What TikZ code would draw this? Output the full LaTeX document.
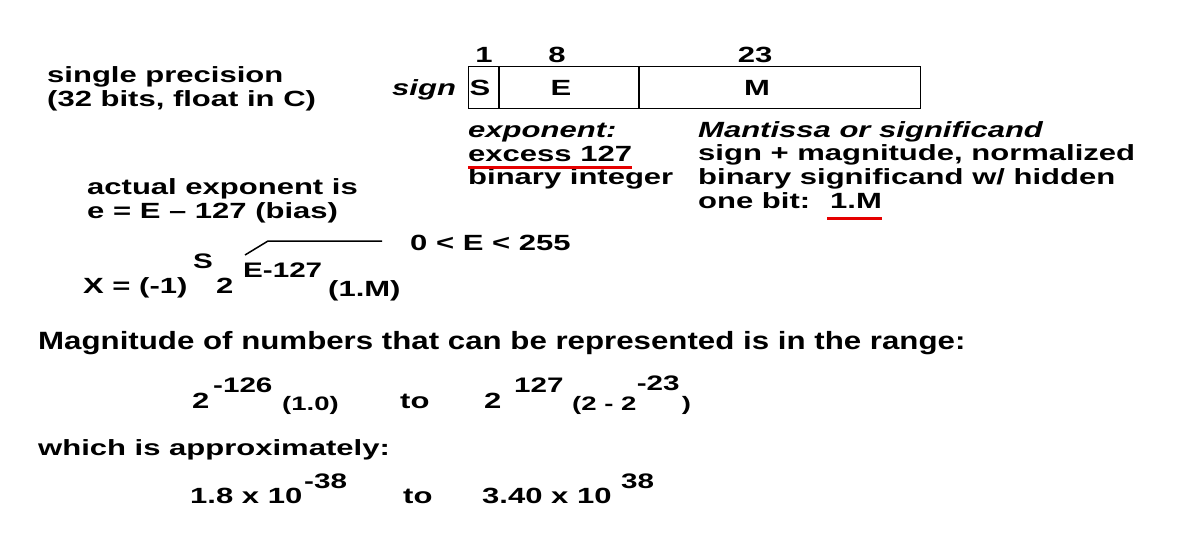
\documentclass[tikz,border=0pt]{standalone}
\usepackage{fontspec}
\setmainfont{Liberation Sans}[FakeStretch=1.41]
\newfontfamily\magfont{Liberation Sans}[FakeStretch=1.25]
\usetikzlibrary{positioning}
\tikzset{
  txt/.style={anchor=base west, inner sep=0pt, font=\bfseries\fontsize{22}{24}\selectfont},
  itxt/.style={txt, font=\bfseries\itshape\fontsize{22}{24}\selectfont},
  suptxt/.style={txt, font=\bfseries\fontsize{21}{24}\selectfont},
  smalltxt/.style={txt, font=\bfseries\fontsize{19.5}{22}\selectfont},
  field/.style={draw, line width=1pt, anchor=north west, minimum height=42pt, inner sep=0pt},
  redline/.style={red!90!black, line width=3pt}
}
\begin{document}
\begin{tikzpicture}[x=1pt,y=-1pt]
\useasboundingbox (0,0) rectangle (1187,538);
% left heading
\node[txt] (single) at (47,82) {single precision};
\node[txt] (bits) at (47,106) {(32 bits, float in C)};
% the 32 bit word
\node[itxt] (sign) at (392,95) {sign};
\node[field, minimum width=30pt] (fs) at (468,66) {};
\node[field, minimum width=139pt] (fe) at (fs.north east) {};
\node[field, minimum width=281pt] (fm) at (fe.north east) {};
\node[txt, anchor=base] (ls) at (480,95) {S};
\node[txt, anchor=base] (le) at (561,95) {E};
\node[txt, anchor=base] (lm) at (757,95) {M};
\node[txt, anchor=base] (n1) at (484,62) {1};
\node[txt, anchor=base] (n8) at (557,62) {8};
\node[txt, anchor=base] (n23) at (755,62) {23};
% exponent notes
\node[itxt] (expo) at (468,137) {exponent:};
\node[txt] (excess) at (468,161) {excess 127};
\node[txt] (binint) at (468,184) {binary integer};
\draw[redline] ([yshift=-6pt]excess.base west) -- ([yshift=-6pt]excess.base east);
% mantissa notes
\node[itxt] (mant) at (698,137) {Mantissa or significand};
\node[txt] (signmag) at (698,160) {sign + magnitude, normalized};
\node[txt] (binsig) at (698,184) {binary significand w/ hidden};
\node[txt] (onebit) at (698,208) {one bit:};
\node[txt] (onem) at (830,208) {1.M};
\draw[redline] ([yshift=-10pt,xshift=-3pt]onem.base west) -- ([yshift=-10pt]onem.base east);
% bias
\node[txt] (actual) at (87,194) {actual exponent is};
\node[txt] (bias) at (87,218) {e = E -- 127 (bias)};
% formula
\node[txt] (xeq) at (83,293) {X = (-1)};
\node[suptxt] (xs) at (193,268) {S};
\node[txt] (two) at (216,293) {2};
\node[suptxt] (ebias) at (243,277) {E-127};
\node[txt] (onemf) at (328,296) {(1.M)};
\node[txt] (range) at (410,250) {0 < E < 255};
\coordinate (tip) at (245,255);
\coordinate (kink) at (268,241);
\draw[line width=1.5pt] (tip) -- (kink) -- (kink -| range.west) [shorten >=28pt];
% magnitude
\node[txt, font=\magfont\bfseries\fontsize{25}{26}\selectfont] (magn) at (38,349) {Magnitude of numbers that can be represented is in the range:};
\node[txt] (lo2) at (192,408) {2};
\node[suptxt] (lo126) at (213,392) {-126};
\node[smalltxt] (lo10) at (282,410) {(1.0)};
\node[txt] (to1) at (400,408) {to};
\node[txt] (hi2) at (484,408) {2};
\node[suptxt] (hi127) at (514,392) {127};
\node[smalltxt] (hipar) at (572,410) {(2 - 2};
\node[suptxt] (hi23) at ([yshift=20pt]hipar.base east) {-23};
\node[smalltxt] (hiclose) at ([yshift=-20pt,xshift=2pt]hi23.base east) {)};
\node[txt] (approx) at (38,455) {which is approximately:};
\node[txt] (lo18) at (190,503) {1.8 x 10};
\node[suptxt] (lo38) at (304,488) {-38};
\node[txt] (to2) at (403,503) {to};
\node[txt] (hi34) at (482,503) {3.40 x 10};
\node[suptxt] (hi38) at (621,488) {38};
\end{tikzpicture}
\end{document}
